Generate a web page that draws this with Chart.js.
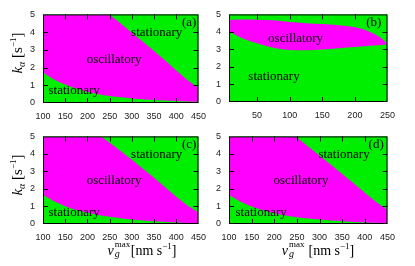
<!DOCTYPE html>
<html>
<head>
<meta charset="utf-8">
<script src="https://cdn.jsdelivr.net/npm/chart.js@4.4.1/dist/chart.umd.min.js"></script>
<style>
  body { margin: 0; background: #fff; }
  #wrap { position: relative; width: 415px; height: 266px; overflow: hidden;
          font-family: "Liberation Serif", "Times New Roman", serif; color: #000; }
  #wrap canvas { position: absolute; }
  .ttl { position: absolute; white-space: nowrap; font-size: 14px; line-height: 1;
         transform: translate(-50%, -50%); }
  .ytl { transform: translate(-50%, -50%) rotate(-90deg); font-size: 15px; }
  .ttl sup { font-size: 9px; vertical-align: 6px; line-height: 0; }
  .ttl sub { font-size: 10px; vertical-align: -3px; line-height: 0; }
  .st { position: relative; display: inline-block; width: 17px; height: 14px; }
  .st .sp { position: absolute; left: 1px; top: -1px; font-size: 9px; line-height: 1; }
  .st .sb { position: absolute; left: 1px; top: 8px; font-size: 10px; line-height: 1; }
</style>
</head>
<body>
<div id="wrap">
  <canvas id="ca" width="207" height="120" style="left:7px;top:1px"></canvas>
  <canvas id="cb" width="210" height="119" style="left:193px;top:1px"></canvas>
  <canvas id="cc" width="207" height="119" style="left:7px;top:123px"></canvas>
  <canvas id="cd" width="210" height="119" style="left:193px;top:123px"></canvas>

  <div class="ttl ytl" style="left:17px;top:53px"><i>k</i><sub><i>α</i></sub>&nbsp;[s<sup>−1</sup>]</div>
  <div class="ttl ytl" style="left:17px;top:175px"><i>k</i><sub><i>α</i></sub>&nbsp;[s<sup>−1</sup>]</div>
  <div class="ttl" style="left:142px;top:249px"><i>v</i><span class="st"><span class="sp">max</span><span class="sb"><i>g</i></span></span>[nm s<sup>−1</sup>]</div>
  <div class="ttl" style="left:318px;top:249px"><i>v</i><span class="st"><span class="sp">max</span><span class="sb"><i>g</i></span></span>&nbsp;[nm s<sup>−1</sup>]</div>
</div>
<script>
// ticks
const yTicks = [0, 1, 2, 3, 4, 5];
const xTicksVel = [100, 150, 200, 250, 300, 350, 400, 450];
const xTicksB = [50, 100, 150, 200, 250];

// lower boundary x grid (panels a, c, d)
const lowX = [100, 125, 150, 175, 200, 225, 250, 275, 300, 325, 350, 375, 400, 425, 450];

// panel (a)
const upXA = [100, 250, 275, 300, 325, 350, 375, 400, 425, 450];
const upYA = [5, 5, 4.48, 3.97, 3.45, 2.93, 2.4, 1.83, 1.3, 0.85];
const lowYA = [1.72, 1.33, 1.05, 0.82, 0.64, 0.5, 0.4, 0.32, 0.26, 0.21, 0.17, 0.14, 0.11, 0.09, 0.07];

// panel (b)
const xB = [7, 25, 50, 75, 100, 125, 150, 175, 200, 215, 230, 240, 250];
const upYB = [4.68, 4.71, 4.7, 4.66, 4.56, 4.5, 4.45, 4.38, 4.26, 4.12, 3.88, 3.66, 3.32];
const lowYB = [4.05, 3.68, 3.35, 3.1, 2.97, 2.95, 3.0, 3.07, 3.14, 3.18, 3.22, 3.25, 3.28];

// panel (c)
const upXC = [100, 231, 250, 275, 300, 325, 350, 375, 400, 425, 450];
const upYC = [5, 5, 4.64, 4.16, 3.67, 3.16, 2.64, 2.1, 1.55, 1.05, 0.65];
const lowYC = [1.67, 1.3, 1.02, 0.8, 0.64, 0.52, 0.42, 0.33, 0.26, 0.2, 0.15, 0.11, 0.08, 0.06, 0.04];

// panel (d)
const upXD = [100, 247, 250, 275, 300, 325, 350, 375, 400, 425, 450];
const upYD = [5, 5, 4.94, 4.42, 3.9, 3.38, 2.86, 2.33, 1.78, 1.25, 0.8];
const lowYD = [1.65, 1.28, 1.0, 0.79, 0.62, 0.49, 0.39, 0.31, 0.25, 0.2, 0.16, 0.12, 0.09, 0.07, 0.05];

const GREEN = "#00ee00";
const MAGENTA = "#ff00ff";
const tickFont = { family: "'Liberation Sans Narrow', 'Liberation Sans', Arial, sans-serif", size: 9 };

const pts = (xs, ys) => xs.map((x, i) => ({ x: x, y: ys[i] }));

// green area, in-chart labels, frame and inward ticks
const framePlugin = {
  id: "frame",
  beforeDatasetsDraw(chart) {
    const a = chart.chartArea, ctx = chart.ctx;
    ctx.save();
    ctx.fillStyle = GREEN;
    ctx.fillRect(a.left, a.top, a.right - a.left, a.bottom - a.top);
    ctx.restore();
  },
  afterDatasetsDraw(chart, args, opts) {
    const ctx = chart.ctx, sx = chart.scales.x, sy = chart.scales.y;
    ctx.save();
    ctx.fillStyle = "#000";
    ctx.font = "13px 'Liberation Serif', 'Times New Roman', serif";
    ctx.textAlign = "center";
    ctx.textBaseline = "middle";
    (opts.labels || []).forEach((l) => {
      ctx.fillText(l[0], sx.getPixelForValue(l[1]), sy.getPixelForValue(l[2]));
    });
    ctx.restore();
  },
  afterDraw(chart) {
    const a = chart.chartArea, ctx = chart.ctx;
    const sx = chart.scales.x, sy = chart.scales.y;
    const len = 5;
    ctx.save();
    ctx.strokeStyle = "#000";
    ctx.lineWidth = 1;
    ctx.beginPath();
    sx.ticks.forEach((t) => {
      const px = Math.round(sx.getPixelForValue(t.value)) + 0.5;
      if (px <= a.left + 1 || px >= a.right - 1) return;
      ctx.moveTo(px, a.bottom); ctx.lineTo(px, a.bottom - len);
      ctx.moveTo(px, a.top); ctx.lineTo(px, a.top + len);
    });
    sy.ticks.forEach((t) => {
      const py = Math.round(sy.getPixelForValue(t.value)) + 0.5;
      if (py <= a.top + 1 || py >= a.bottom - 1) return;
      ctx.moveTo(a.left, py); ctx.lineTo(a.left + len, py);
      ctx.moveTo(a.right, py); ctx.lineTo(a.right - len, py);
    });
    ctx.stroke();
    ctx.strokeRect(a.left + 0.5, a.top + 0.5, a.right - a.left - 1, a.bottom - a.top - 1);
    ctx.restore();
  },
};

function makePanel(id, cfg) {
  const ctx = document.getElementById(id).getContext("2d");
  return new Chart(ctx, {
    type: "line",
    data: {
      datasets: [
        {
          data: cfg.lower,
          fill: "origin",
          backgroundColor: GREEN,
          borderColor: "rgba(0,0,0,0)",
          borderWidth: 0,
          pointRadius: 0,
          cubicInterpolationMode: "monotone",
          order: 1,
        },
        {
          data: cfg.upper,
          fill: "origin",
          backgroundColor: MAGENTA,
          borderColor: "rgba(0,0,0,0)",
          borderWidth: 0,
          pointRadius: 0,
          cubicInterpolationMode: cfg.smoothUpper ? "monotone" : "default",
          tension: 0,
          order: 2,
        },
      ],
    },
    options: {
      responsive: false,
      animation: false,
      devicePixelRatio: 1,
      layout: { padding: { top: 6, right: 10, left: 0, bottom: 0 } },
      plugins: {
        legend: { display: false },
        tooltip: { enabled: false },
        frame: { labels: cfg.labels },
      },
      scales: {
        x: {
          type: "linear",
          min: cfg.xmin,
          max: cfg.xmax,
          grid: { display: false, drawTicks: false },
          border: { display: false },
          afterBuildTicks: (s) => { s.ticks = cfg.xticks.map((v) => ({ value: v })); },
          afterFit: (s) => { s.height = 18; },
          ticks: { font: tickFont, color: "#222", padding: 8, autoSkip: false, maxRotation: 0 },
        },
        y: {
          type: "linear",
          min: 0,
          max: 5,
          grid: { display: false, drawTicks: false },
          border: { display: false },
          afterBuildTicks: (s) => { s.ticks = yTicks.map((v) => ({ value: v })); },
          afterFit: (s) => { s.width = 36; },
          ticks: { font: tickFont, color: "#222", padding: 8 },
        },
      },
    },
    plugins: [framePlugin],
  });
}

makePanel("ca", {
  xmin: 100, xmax: 450, xticks: xTicksVel,
  upper: pts(upXA, upYA), lower: pts(lowX, lowYA),
  labels: [["(a)", 429, 4.55], ["stationary", 356, 3.95], ["oscillatory", 260, 2.45], ["stationary", 170, 0.7]],
});
makePanel("cb", {
  xmin: 7, xmax: 250, xticks: xTicksB, smoothUpper: true,
  upper: pts(xB, upYB), lower: pts(xB, lowYB),
  labels: [["(b)", 229, 4.56], ["oscillatory", 109, 3.63], ["stationary", 76, 1.44]],
});
makePanel("cc", {
  xmin: 100, xmax: 450, xticks: xTicksVel,
  upper: pts(upXC, upYC), lower: pts(lowX, lowYC),
  labels: [["(c)", 429, 4.56], ["stationary", 356, 3.95], ["oscillatory", 260, 2.46], ["stationary", 170, 0.67]],
});
makePanel("cd", {
  xmin: 100, xmax: 450, xticks: xTicksVel,
  upper: pts(upXD, upYD), lower: pts(lowX, lowYD),
  labels: [["(d)", 425, 4.56], ["stationary", 354, 3.95], ["oscillatory", 259, 2.46], ["stationary", 171, 0.67]],
});
</script>
</body>
</html>
